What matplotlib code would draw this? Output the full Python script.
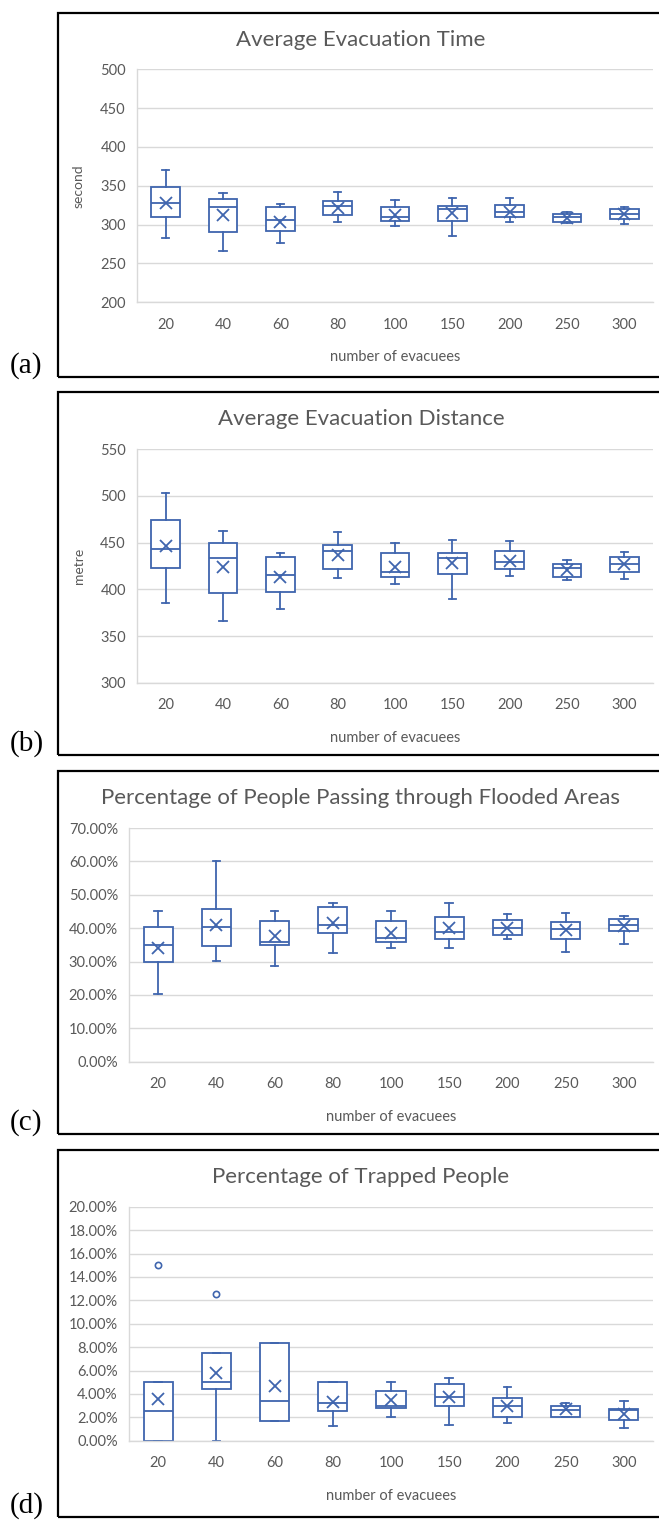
import matplotlib
matplotlib.use("Agg")
import matplotlib.pyplot as plt
from matplotlib.patches import Rectangle
from matplotlib.ticker import FuncFormatter, MultipleLocator

plt.rcParams["font.family"] = ["Lato", "DejaVu Sans"]

W, H = 659, 1521

categories = ["20", "40", "60", "80", "100", "150", "200", "250", "300"]

# (a) average evacuation time, seconds
time_low = [282.4, 266.1, 276.4, 303.0, 298.7, 285.8, 303.0, 301.7, 300.9]
time_q1 = [309.9, 290.1, 292.3, 312.4, 305.1, 305.1, 310.3, 303.0, 306.9]
time_med = [327.5, 322.3, 305.6, 324.5, 309.4, 320.2, 315.9, 309.4, 313.3]
time_q3 = [348.1, 333.0, 322.3, 330.0, 323.2, 323.6, 325.3, 314.2, 319.7]
time_high = [370.4, 340.3, 326.2, 341.6, 331.8, 334.3, 334.3, 316.3, 323.2]
time_mean = [328.3, 312.4, 303.9, 321.0, 312.4, 314.6, 316.7, 309.0, 313.3]

# (b) average evacuation distance, metres
dist_low = [385.0, 365.7, 378.6, 412.1, 406.1, 389.3, 413.9, 410.4, 411.4]
dist_q1 = [423.2, 396.4, 397.5, 421.4, 412.9, 416.8, 422.1, 413.2, 418.6]
dist_med = [443.2, 433.6, 415.7, 440.7, 418.9, 433.9, 428.9, 422.5, 427.1]
dist_q3 = [474.3, 450.0, 434.3, 447.5, 438.6, 438.6, 441.4, 427.5, 435.0]
dist_high = [503.6, 462.1, 439.3, 461.1, 449.3, 453.2, 452.1, 431.4, 440.4]
dist_mean = [446.4, 423.6, 413.6, 436.8, 423.9, 428.6, 430.4, 420.7, 426.8]

# (c) people passing through flooded areas, percent
flood_low = [20.2, 30.1, 28.6, 32.7, 34.1, 34.1, 36.7, 32.9, 35.4]
flood_q1 = [30.0, 34.6, 35.1, 38.4, 35.8, 36.9, 37.9, 36.7, 39.2]
flood_med = [35.1, 40.2, 35.8, 40.8, 37.2, 38.7, 40.0, 39.7, 40.8]
flood_q3 = [40.2, 45.8, 42.2, 46.3, 42.0, 43.2, 42.5, 41.7, 42.8]
flood_high = [45.1, 60.1, 45.1, 47.6, 45.1, 47.4, 44.1, 44.6, 43.5]
flood_mean = [34.2, 41.0, 37.7, 41.4, 38.5, 40.0, 40.0, 39.4, 40.6]

# (d) trapped people, percent
trap_low = [0.0, 0.0, 1.67, 1.28, 1.99, 1.37, 1.51, 2.0, 1.08]
trap_q1 = [0.0, 4.39, 1.67, 2.54, 2.79, 2.99, 1.99, 2.0, 1.79]
trap_med = [2.5, 5.0, 3.39, 3.19, 2.99, 3.70, 2.99, 2.62, 2.62]
trap_q3 = [5.0, 7.5, 8.33, 5.0, 4.27, 4.84, 3.68, 2.99, 2.68]
trap_high = [5.0, 7.5, 8.33, 5.0, 5.0, 5.38, 4.56, 3.25, 3.42]
trap_mean = [3.57, 5.76, 4.70, 3.33, 3.48, 3.76, 2.99, 2.68, 2.25]
trap_outliers = [[15.0], [12.5], [], [], [], [], [], [], []]

BLUE = "#3F65AE"
GRID = "#D9D9D9"
TEXT = "#595959"


def make_stats(low, q1, med, q3, high, mean, outliers=None):
    stats = []
    for i in range(len(low)):
        stats.append(dict(
            whislo=low[i], q1=q1[i], med=med[i], q3=q3[i], whishi=high[i],
            mean=mean[i], fliers=(outliers[i] if outliers else []),
        ))
    return stats


def fx(px):
    return px / W


def fy(py):
    return 1 - py / H


fig = plt.figure(figsize=(W / 100, H / 100), dpi=100)

panels = [
    dict(label="(a)", title="Average Evacuation Time", ylabel="second",
         frame=(13, 377), plot=(69.3, 302.3), left=137,
         ylim=(200, 500), step=50, pct=False,
         stats=make_stats(time_low, time_q1, time_med, time_q3, time_high, time_mean)),
    dict(label="(b)", title="Average Evacuation Distance", ylabel="metre",
         frame=(392, 755), plot=(449.3, 682.7), left=137,
         ylim=(300, 550), step=50, pct=False,
         stats=make_stats(dist_low, dist_q1, dist_med, dist_q3, dist_high, dist_mean)),
    dict(label="(c)", title="Percentage of People Passing through Flooded Areas", ylabel=None,
         frame=(771, 1134), plot=(828, 1061.7), left=129,
         ylim=(0, 70), step=10, pct=True,
         stats=make_stats(flood_low, flood_q1, flood_med, flood_q3, flood_high, flood_mean)),
    dict(label="(d)", title="Percentage of Trapped People", ylabel=None,
         frame=(1150, 1517), plot=(1206.7, 1440.7), left=129,
         ylim=(0, 20), step=2, pct=True,
         stats=make_stats(trap_low, trap_q1, trap_med, trap_q3, trap_high, trap_mean, trap_outliers)),
]

RIGHT = 653

for p in panels:
    ftop, fbot = p["frame"]
    ptop, pbot = p["plot"]
    left = p["left"]

    # outer frame of the panel (runs off the right edge)
    fig.add_artist(Rectangle((fx(58), fy(fbot)), fx(720 - 58), (fbot - ftop) / H,
                             transform=fig.transFigure, fill=False,
                             lw=1.6, ec="black", clip_on=False))

    ax = fig.add_axes([fx(left), fy(pbot), fx(RIGHT - left), (pbot - ptop) / H])
    ax.bxp(p["stats"], positions=range(len(categories)), widths=0.5,
           patch_artist=True, showmeans=True, capwidths=0.13,
           boxprops=dict(facecolor="white", edgecolor=BLUE, linewidth=1.3),
           whiskerprops=dict(color=BLUE, linewidth=1.3),
           capprops=dict(color=BLUE, linewidth=1.3),
           medianprops=dict(color=BLUE, linewidth=1.3),
           meanprops=dict(marker="x", markeredgecolor=BLUE, markersize=8.5,
                          markeredgewidth=1.3),
           flierprops=dict(marker="o", markerfacecolor="none",
                           markeredgecolor=BLUE, markersize=4.5,
                           markeredgewidth=1.2))

    ax.set_xlim(-0.5, len(categories) - 0.5)
    ax.set_ylim(*p["ylim"])
    ax.yaxis.set_major_locator(MultipleLocator(p["step"]))
    if p["pct"]:
        ax.yaxis.set_major_formatter(FuncFormatter(lambda v, _: f"{v:.2f}%"))
    else:
        ax.yaxis.set_major_formatter(FuncFormatter(lambda v, _: f"{v:.0f}"))
    ax.set_xticks(range(len(categories)))
    ax.set_xticklabels(categories)
    ax.grid(axis="y", color=GRID, linewidth=1.0)
    ax.set_axisbelow(True)
    for s in ("top", "right"):
        ax.spines[s].set_visible(False)
    for s in ("left", "bottom"):
        ax.spines[s].set_color(GRID)
        ax.spines[s].set_linewidth(1.0)
    ax.tick_params(axis="both", length=0, labelsize=10.5, labelcolor=TEXT)
    ax.tick_params(axis="y", pad=8)
    ax.tick_params(axis="x", pad=11)

    fig.text(fx(361), fy(ftop + 27), p["title"], ha="center", va="center",
             fontsize=16, color=TEXT)
    fig.text(fx((left + RIGHT) / 2), fy(pbot + 55), "number of evacuees",
             ha="center", va="center", fontsize=10.5, color=TEXT)
    if p["ylabel"]:
        fig.text(fx(79), fy((ptop + pbot) / 2), p["ylabel"], rotation=90,
                 ha="center", va="center", fontsize=10, color=TEXT)
    fig.text(fx(10), fy(fbot - 11), p["label"], ha="left", va="center",
             fontsize=21, family="Liberation Serif", color="black")

fig.savefig("out.png", dpi=100)
